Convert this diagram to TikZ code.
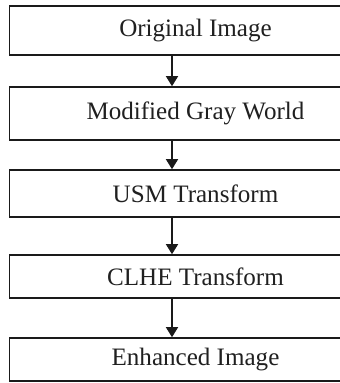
\documentclass[tikz,border=0pt]{standalone}
\usepackage{fontspec}
\setmainfont{Liberation Serif}
\usepackage{xcolor}
\usepackage{tikz}
\usetikzlibrary{arrows.meta,positioning}
\definecolor{edge}{HTML}{1A1A1A}
\definecolor{ink}{HTML}{202020}
\tikzset{
  stage/.style ={draw=edge,line width=1.2pt,fill=white,minimum width=279pt,
                 inner sep=0pt,align=center,text=ink,font=\fontsize{18.8}{21}\selectfont},
  flow/.style  ={-{Triangle[length=7.5pt,width=9pt]},line width=1.1pt,draw=edge}
}

\begin{document}
\begin{tikzpicture}[x=0.75pt,y=-0.75pt]
  \useasboundingbox (0,0) rectangle (340,383);
  \clip (0,0) rectangle (340,383);
  \fill[white] (0,0) rectangle (340,383);
  % pixel grid, y runs down
  \node[stage,minimum height=36.75pt] (orig) at (195.5,30.5) {Original Image};
  \node[stage,minimum height=39.75pt] (mgw)  at (195.5,113.5) {Modified Gray World};
  \node[stage,minimum height=35.25pt] (usm)  at (195.5,193.5) {USM Transform};
  \node[stage,minimum height=32.25pt] (clhe) at (195.5,276.5) {CLHE Transform};
  \node[stage,minimum height=32.25pt] (enh)  at (195.5,359.5) {Enhanced Image};
  \coordinate (ax) at (172,0);
  \draw[flow] (orig.south -| ax) -- (mgw.north -| ax);
  \draw[flow] (mgw.south -| ax) -- (usm.north -| ax);
  \draw[flow] (usm.south -| ax) -- (clhe.north -| ax);
  \draw[flow] (clhe.south -| ax) -- (enh.north -| ax);
\end{tikzpicture}
\end{document}
